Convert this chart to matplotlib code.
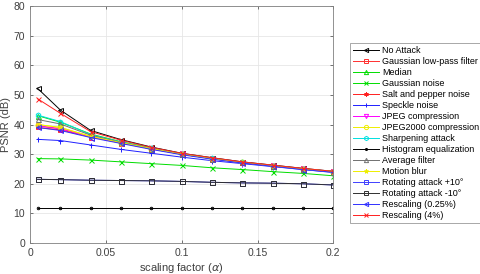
import matplotlib
matplotlib.use('Agg')
from matplotlib import pyplot as plt

plt.rcParams['font.family'] = ['Liberation Sans', 'DejaVu Sans']

alpha = [0.005, 0.02, 0.04, 0.06, 0.08, 0.1, 0.12, 0.14, 0.16, 0.18, 0.2]

no_attack = [52.2, 44.9, 38.0, 34.9, 32.4, 30.3, 28.8, 27.4, 26.3, 25.2, 24.2]
gauss_lpf = [39.5, 38.6, 35.9, 33.9, 31.8, 30.0, 28.5, 27.2, 26.1, 25.0, 24.1]
median = [43.0, 40.8, 36.8, 34.2, 32.1, 30.1, 28.6, 27.2, 26.1, 25.0, 24.1]
gauss_noise = [28.5, 28.4, 28.0, 27.4, 26.8, 26.2, 25.4, 24.8, 24.1, 23.5, 22.7]
salt_pepper = [39.0, 38.2, 35.8, 33.8, 31.8, 30.0, 28.5, 27.2, 26.1, 25.0, 24.1]
speckle = [35.0, 34.6, 33.1, 31.6, 30.3, 29.0, 27.8, 26.8, 25.8, 24.8, 23.8]
jpeg = [39.6, 38.6, 35.8, 33.8, 31.8, 30.0, 28.5, 27.1, 26.0, 25.0, 24.0]
jpeg2000 = [40.0, 39.0, 36.0, 33.9, 31.9, 30.0, 28.5, 27.2, 26.1, 25.0, 24.1]
sharpening = [43.2, 41.0, 36.6, 34.1, 32.0, 30.1, 28.6, 27.2, 26.1, 25.0, 24.1]
hist_eq = [11.8] * 11
average = [41.7, 40.2, 36.4, 34.0, 31.9, 30.0, 28.5, 27.2, 26.1, 25.0, 24.1]
motion_blur = [40.0, 39.0, 36.0, 33.9, 31.9, 30.0, 28.5, 27.2, 26.1, 25.0, 24.1]
rot_p10 = [21.5, 21.4, 21.2, 21.1, 21.0, 20.8, 20.5, 20.3, 20.2, 20.0, 19.6]
rot_m10 = [21.5, 21.4, 21.2, 21.1, 21.0, 20.8, 20.5, 20.3, 20.2, 20.0, 19.6]
resc_025 = [39.0, 38.0, 35.6, 33.6, 31.6, 29.8, 28.3, 27.0, 25.9, 24.8, 23.9]
resc_4 = [48.7, 43.8, 37.6, 34.7, 32.3, 30.3, 28.8, 27.4, 26.3, 25.2, 24.2]

series = [
    ('No Attack', no_attack, 'k', '<'),
    ('Gaussian low-pass filter', gauss_lpf, '#ff3030', 's'),
    ('Median', median, '#00dd00', '^'),
    ('Gaussian noise', gauss_noise, '#00dd00', 'x'),
    ('Salt and pepper noise', salt_pepper, '#ff2020', (6, 2, 0)),
    ('Speckle noise', speckle, '#2020ff', '+'),
    ('JPEG compression', jpeg, '#ff00ff', 'v'),
    ('JPEG2000 compression', jpeg2000, '#eeee00', 'o'),
    ('Sharpening attack', sharpening, '#00e0e0', 'h'),
    ('Histogram equalization', hist_eq, 'k', '.'),
    ('Average filter', average, '#707070', '^'),
    ('Motion blur', motion_blur, '#eeee00', '*'),
    ('Rotating attack +10°', rot_p10, '#4040ff', 's'),
    ('Rotating attack -10°', rot_m10, '#303030', 's'),
    ('Rescaling (0.25%)', resc_025, '#3030ff', '<'),
    ('Rescaling (4%)', resc_4, '#ff2020', 'x'),
]

fig = plt.figure(figsize=(4.8, 2.74), dpi=100)
ax = fig.add_axes([0.0625, 0.113, 0.632, 0.865])

for name, y, c, m in series:
    ax.plot(alpha, y, color=c, marker=m, markersize=3.6, linewidth=0.7,
            markerfacecolor='none', markeredgewidth=0.7, label=name)

ax.set_xlim(0, 0.2)
ax.set_ylim(0, 80)
ax.set_xticks([0, 0.05, 0.1, 0.15, 0.2])
ax.set_xticklabels(['0', '0.05', '0.1', '0.15', '0.2'])
ax.set_yticks(range(0, 81, 10))
ax.grid(True, color='#e6e6e6', linewidth=0.6)
ax.set_axisbelow(True)
for s in ax.spines.values():
    s.set_color('#808080')
    s.set_linewidth(0.6)
ax.tick_params(labelsize=7.5, colors='#404040', length=2, width=0.5, direction='in',
               top=True, right=True)
ax.set_xlabel(r'scaling factor ($\alpha$)', fontsize=8, color='#404040', labelpad=2)
ax.set_ylabel('PSNR (dB)', fontsize=8, color='#404040', labelpad=2)

leg = ax.legend(loc='upper left', bbox_to_anchor=(1.055, 0.845), fontsize=6.5,
                frameon=True, fancybox=False, borderpad=0.35, labelspacing=0.22,
                handlelength=2.9, handletextpad=0.3, borderaxespad=0,
                markerscale=0.85)
leg.get_frame().set_edgecolor('#808080')
leg.get_frame().set_linewidth(0.6)

fig.savefig('out.png', dpi=100)
